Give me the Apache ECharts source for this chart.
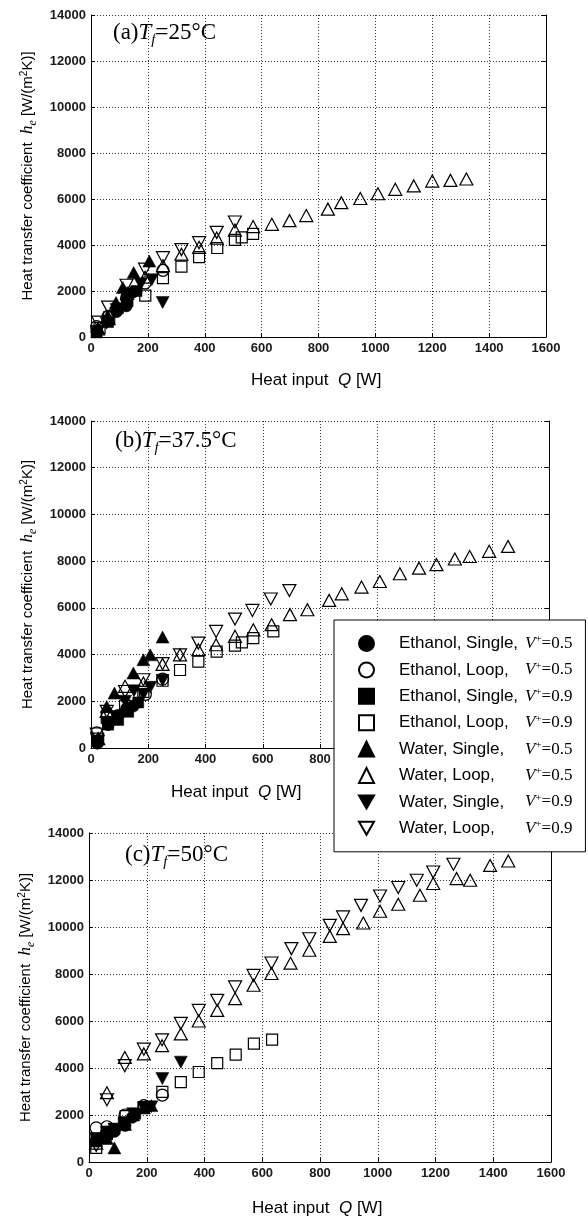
<!DOCTYPE html>
<html><head><meta charset="utf-8">
<script src="https://cdn.jsdelivr.net/npm/echarts@6/dist/echarts.min.js"></script>
<style>html,body{margin:0;padding:0;background:#fff}#c{width:588px;height:1218px}</style>
</head><body><div id="c"></div>
<script>
// ---- tick labels ----
const xTicks = [0, 200, 400, 600, 800, 1000, 1200, 1400, 1600];
const yTicks = [0, 2000, 4000, 6000, 8000, 10000, 12000, 14000];

// ---- legend / series labels ----
const seriesNames = ['EthSingle05', 'EthLoop05', 'EthSingle09', 'EthLoop09', 'WatSingle05', 'WatLoop05', 'WatSingle09', 'WatLoop09'];
const legendFluid = ['Ethanol, Single,', 'Ethanol, Loop,', 'Ethanol, Single,', 'Ethanol, Loop,', 'Water, Single,', 'Water, Loop,', 'Water, Single,', 'Water, Loop,'];
const legendV = ['0.5', '0.5', '0.9', '0.9', '0.5', '0.5', '0.9', '0.9'];
const panelTemps = ['25', '37.5', '50'];
const panelLetters = ['a', 'b', 'c'];

// ---- panel (a) Tf = 25 C : [Q (W), h (W/m2K)] ----
const a_ethSingle05 = [[20,250],[60,700],[90,1100],[124,1350],[147,1950]];
const a_ethLoop05 = [[20,450],[60,900],[125,1700],[190,2350],[253,2900]];
const a_ethSingle09 = [[20,200],[60,650],[95,1250],[128,1550],[160,2000]];
const a_ethLoop09 = [[30,400],[64,850],[127,1600],[191,1800],[253,2560],[318,3060],[380,3470],[444,3870],[506,4220],[530,4330],[570,4480]];
const a_watSingle05 = [[25,400],[58,900],[88,1500],[112,2150],[150,2800],[205,3300]];
const a_watLoop05 = [[25,350],[62,800],[127,1900],[190,2600],[253,3100],[318,3600],[380,3900],[442,4300],[506,4650],[570,4800],[636,4900],[698,5060],[757,5280],[833,5560],[880,5840],[947,6020],[1009,6230],[1070,6420],[1135,6570],[1200,6780],[1264,6810],[1320,6870]];
const a_watSingle09 = [[25,250],[55,600],[90,1200],[125,1750],[175,2300],[214,2490],[252,1500]];
const a_watLoop09 = [[25,650],[60,1300],[125,2250],[190,2950],[253,3450],[318,3800],[380,4100],[442,4550],[506,5000]];

// ---- panel (b) Tf = 37.5 C ----
const b_ethSingle05 = [[22,200],[60,1000],[95,1400],[125,1700],[148,1800]];
const b_ethLoop05 = [[20,650],[60,1100],[125,1650],[190,2300],[250,2950]];
const b_ethSingle09 = [[22,300],[60,1000],[95,1200],[130,1550],[165,1950]];
const b_ethLoop09 = [[25,400],[55,1300],[119,1800],[183,2400],[250,2880],[311,3340],[375,3700],[439,4130],[503,4380],[527,4520],[567,4700],[637,4990]];
const b_watSingle05 = [[25,400],[55,1780],[82,2350],[148,3210],[183,3780],[207,3990],[250,4750]];
const b_watLoop05 = [[25,400],[55,1566],[119,2640],[183,2780],[250,3580],[311,3990],[375,4210],[437,4420],[503,4780],[567,5060],[631,5280],[695,5710],[756,5920],[832,6320],[876,6600],[945,6890],[1009,7130],[1079,7460],[1146,7700],[1207,7850],[1271,8090],[1323,8200],[1391,8420],[1457,8630]];
const b_watSingle09 = [[25,300],[55,1100],[90,1350],[119,2000],[150,2450],[183,2300],[207,2600],[250,2900]];
const b_watLoop09 = [[20,600],[55,1570],[119,2420],[183,2920],[250,3610],[311,3990],[375,4490],[437,4990],[503,5520],[564,5890],[628,6380],[693,6740]];

// ---- panel (c) Tf = 50 C ----
const c_ethSingle05 = [[25,900],[62,1100],[88,1300],[125,1550],[150,1900]];
const c_ethLoop05 = [[25,1450],[62,1500],[125,2000],[190,2400],[254,2850]];
const c_ethSingle09 = [[25,1000],[62,1300],[88,1400],[120,1700],[160,2050]];
const c_ethLoop09 = [[25,600],[62,1200],[127,1950],[190,2340],[254,2980],[318,3400],[380,3830],[444,4210],[508,4570],[571,5040],[634,5210]];
const c_watSingle05 = [[25,900],[62,1000],[88,600],[125,1600],[153,2000],[190,2300],[216,2400]];
const c_watLoop05 = [[25,800],[62,2950],[124,4450],[190,4600],[253,4950],[318,5450],[380,6000],[444,6450],[506,6950],[570,7520],[632,8020],[698,8460],[763,9010],[834,9600],[880,9930],[950,10170],[1008,10670],[1071,10970],[1146,11350],[1192,11850],[1273,12060],[1320,11990],[1389,12620],[1452,12810]];
const c_watSingle09 = [[25,1000],[62,1100],[88,1400],[125,1600],[153,2050],[190,2300],[216,2350],[254,3550],[318,4250]];
const c_watLoop09 = [[25,700],[62,2650],[124,4100],[190,4800],[253,5200],[318,5900],[380,6450],[444,6880],[506,7450],[570,7940],[632,8470],[701,9080],[763,9500],[834,10070],[880,10430],[942,10920],[1008,11320],[1071,11680],[1135,11990],[1192,12340],[1262,12670]];

const panelData = [
  [a_ethSingle05, a_ethLoop05, a_ethSingle09, a_ethLoop09, a_watSingle05, a_watLoop05, a_watSingle09, a_watLoop09],
  [b_ethSingle05, b_ethLoop05, b_ethSingle09, b_ethLoop09, b_watSingle05, b_watLoop05, b_watSingle09, b_watLoop09],
  [c_ethSingle05, c_ethLoop05, c_ethSingle09, c_ethLoop09, c_watSingle05, c_watLoop05, c_watSingle09, c_watLoop09]
];

// ---- styles ----
const DOWN = 'path://M0,0L10,0L5,8.66Z';
const markerStyle = [
  {symbol: 'circle', size: 12, filled: true},
  {symbol: 'circle', size: 12, filled: false},
  {symbol: 'rect', size: 11, filled: true},
  {symbol: 'rect', size: 11, filled: false},
  {symbol: 'triangle', size: [13, 12], filled: true},
  {symbol: 'triangle', size: [13, 12], filled: false},
  {symbol: DOWN, size: [13, 12], filled: true},
  {symbol: DOWN, size: [13, 12], filled: false}
];

const grids = [
  {left: 91, top: 15, width: 455, height: 322},
  {left: 91, top: 421, width: 458, height: 327},
  {left: 89, top: 833, width: 462, height: 329}
];
const xTitlePos = [{left: 251, top: 372}, {left: 171, top: 784}, {left: 252, top: 1200}];
const panelLabelPos = [{left: 113, top: 21}, {left: 115, top: 429}, {left: 125, top: 843}];

const SANS = 'Liberation Sans';
const SERIF = 'Liberation Serif';
const plain = v => String(v);

const xAxes = [], yAxes = [], series = [], titles = [];
grids.forEach((g, i) => {
  xAxes.push({
    gridIndex: i, type: 'value',
    min: xTicks[0], max: xTicks[xTicks.length - 1], interval: xTicks[1] - xTicks[0],
    axisLine: {show: true, lineStyle: {color: '#000', width: 1}},
    axisTick: {show: true, inside: true, length: 4, lineStyle: {color: '#000'}},
    axisLabel: {fontSize: 13, color: '#1a1a1a', margin: 5, fontFamily: SANS, fontWeight: 'bold', formatter: plain},
    splitLine: {show: true, lineStyle: {type: [1, 2], color: '#333', width: 1}}
  });
  yAxes.push({
    gridIndex: i, type: 'value', position: 'left',
    min: yTicks[0], max: yTicks[yTicks.length - 1], interval: yTicks[1] - yTicks[0],
    axisLine: {show: true, lineStyle: {color: '#000', width: 1}},
    axisTick: {show: true, inside: true, length: 4, lineStyle: {color: '#000'}},
    axisLabel: {fontSize: 13, color: '#1a1a1a', margin: 5, fontFamily: SANS, fontWeight: 'bold', formatter: plain},
    splitLine: {show: true, lineStyle: {type: [1, 2], color: '#333', width: 1}},
    name: '{n|Heat transfer coefficient  }{h|h}{s|e}{n| [W/(m}{p|2}{n|K)]}',
    nameLocation: 'middle', nameGap: 46,
    nameTextStyle: {
      color: '#000',
      rich: {
        n: {fontSize: 15, fontFamily: SANS, color: '#000', lineHeight: 18},
        h: {fontSize: 17, fontFamily: SERIF, fontStyle: 'italic', color: '#000', lineHeight: 18},
        s: {fontSize: 12, fontFamily: SERIF, fontStyle: 'italic', color: '#000', lineHeight: 10, padding: [10, 0, 0, 0]},
        p: {fontSize: 10, fontFamily: SANS, color: '#000', lineHeight: 10, padding: [0, 0, 8, 0]}
      }
    }
  });
  yAxes.push({
    gridIndex: i, type: 'value', position: 'right',
    min: yTicks[0], max: yTicks[yTicks.length - 1], interval: yTicks[1] - yTicks[0],
    axisLine: {show: true, lineStyle: {color: '#000', width: 1}},
    axisTick: {show: true, inside: true, length: 4, lineStyle: {color: '#000'}},
    axisLabel: {show: false},
    splitLine: {show: false}
  });
  panelData[i].forEach((data, k) => {
    const m = markerStyle[k];
    series.push({
      type: 'scatter', name: seriesNames[k], xAxisIndex: i, yAxisIndex: i * 2,
      data: data, symbol: m.symbol, symbolSize: m.size,
      itemStyle: m.filled ? {color: '#000', borderColor: '#000', borderWidth: 0.5, opacity: 1}
                          : {color: 'rgba(0,0,0,0)', borderColor: '#000', borderWidth: 1.2, opacity: 1},
      emphasis: {disabled: true},
      z: m.filled ? 3 : 2
    });
  });
  titles.push({
    left: xTitlePos[i].left, top: xTitlePos[i].top, padding: 0,
    text: '{n|Heat input  }{q|Q}{n| [W]}',
    textStyle: {fontWeight: 'normal', rich: {
      n: {fontSize: 17, fontFamily: SANS, fontWeight: 'normal', color: '#000'},
      q: {fontSize: 17, fontFamily: SANS, fontWeight: 'normal', fontStyle: 'italic', color: '#000'}
    }}
  });
  titles.push({
    left: panelLabelPos[i].left, top: panelLabelPos[i].top, padding: 0,
    text: '{p|(' + panelLetters[i] + ')}{t|T}{f|f}{p|=' + panelTemps[i] + '°C}',
    textStyle: {fontWeight: 'normal', rich: {
      p: {fontSize: 23, fontFamily: SERIF, fontWeight: 'normal', color: '#000', lineHeight: 24},
      t: {fontSize: 23, fontFamily: SERIF, fontWeight: 'normal', fontStyle: 'italic', color: '#000', lineHeight: 24},
      f: {fontSize: 15, fontFamily: SERIF, fontWeight: 'normal', fontStyle: 'italic', color: '#000', lineHeight: 12, padding: [14, 0, 0, 0]}
    }}
  });
});

const chart = echarts.init(document.getElementById('c'), null, {renderer: 'canvas'});
chart.setOption({
  animation: false,
  backgroundColor: '#fff',
  title: titles,
  grid: grids,
  xAxis: xAxes,
  yAxis: yAxes,
  legend: {
    data: seriesNames,
    orient: 'vertical', left: 334, top: 620,
    itemWidth: 15, itemHeight: 15, itemGap: 7.4,
    padding: [14, 13, 14, 24],
    backgroundColor: '#fff', borderColor: '#000', borderWidth: 1,
    z: 10, selectedMode: false,
    formatter: function (name) {
      const i = seriesNames.indexOf(name);
      return '{g| }{a|' + legendFluid[i] + '}{v|V}{p|+}{e|=' + legendV[i] + '}';
    },
    textStyle: {
      color: '#000',
      rich: {
        g: {width: 20, fontSize: 17, lineHeight: 15},
        a: {width: 126, fontSize: 17, fontFamily: SANS, color: '#000', lineHeight: 15},
        v: {fontSize: 17, fontFamily: SERIF, fontStyle: 'italic', color: '#000', lineHeight: 15},
        p: {fontSize: 11, fontFamily: SERIF, color: '#000', lineHeight: 7, padding: [0, 0, 8, 0]},
        e: {fontSize: 17, fontFamily: SERIF, color: '#000', lineHeight: 15}
      }
    }
  },
  series: series
});
</script></body></html>
